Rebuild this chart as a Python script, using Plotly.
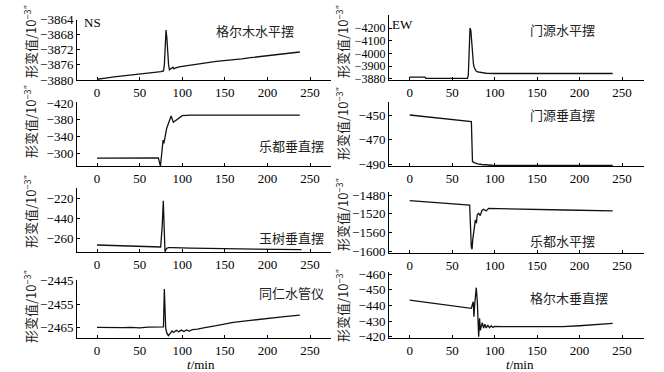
import plotly.graph_objects as go

W, H = 664, 372

# ---------------- data (t in min, deformation values) ----------------
t_gem_h = [0, 5, 10, 20, 30, 40, 50, 60, 70, 75, 78, 79, 80, 81, 82, 83, 84, 85, 87, 89, 90, 92, 95,
           100, 110, 120, 130, 140, 150, 160, 170, 180, 190, 200, 210, 220, 230, 238]
v_gem_h = [-3879.8, -3879.7, -3879.5, -3879.2, -3878.9, -3878.7, -3878.4, -3878.2, -3877.9, -3877.8,
           -3877.6, -3876.0, -3870.0, -3866.8, -3869.0, -3873.0, -3876.0, -3877.3, -3877.0, -3876.6,
           -3877.0, -3876.8, -3876.6, -3876.4, -3876.0, -3875.7, -3875.4, -3875.1, -3874.9, -3874.6,
           -3874.4, -3874.1, -3873.8, -3873.5, -3873.3, -3873.0, -3872.8, -3872.6]

t_my_h = [0, 5, 10, 15, 18, 19, 30, 40, 50, 60, 65, 68, 69, 70, 71, 72, 73, 74, 75, 76, 78, 80, 85,
          90, 100, 120, 140, 160, 180, 200, 220, 239]
v_my_h = [-3815, -3815, -3815, -3815, -3815, -3805, -3805, -3805, -3805, -3805, -3805, -3805, -3830,
          -4050, -4200, -4180, -4080, -3980, -3920, -3890, -3865, -3855, -3848, -3845, -3843, -3843,
          -3843, -3843, -3843, -3843, -3843, -3843]

t_ld_v = [0, 20, 40, 60, 72, 73, 74.4, 76, 77.5, 78.5, 80, 81.7, 84, 87, 89.6, 92, 95, 100, 105, 110,
          150, 200, 238]
v_ld_v = [-287.5, -287.6, -287.8, -288.0, -288.2, -280, -269, -300, -331, -323, -345, -359, -372,
          -389, -374, -378, -383, -389.6, -390.5, -391, -391, -391, -391]

t_my_v = [0, 20, 40, 60, 72.6, 73.9, 76, 80, 85, 97, 110, 150, 200, 239]
v_my_v = [-450.0, -451.5, -452.9, -454.4, -455.4, -487.6, -488.5, -489.4, -490.0, -490.6, -490.8,
          -490.8, -490.8, -490.8]

t_ys_v = [0, 20, 40, 60, 74.7, 76.5, 77.8, 78.8, 79.8, 81.5, 83.7, 88, 95, 110, 130, 150, 175, 200,
          220, 240]
v_ys_v = [-267.0, -267.6, -268.1, -268.6, -269.0, -248, -222.7, -250, -273.7, -270.5, -269.7, -269.6,
          -269.9, -270.1, -270.4, -270.7, -271.0, -271.3, -271.5, -271.7]

t_ld_h = [0, 20, 40, 60, 70.6, 72.5, 73.4, 74.2, 75.3, 76.2, 77.3, 78.5, 79.5, 81.2, 83, 85, 87, 90,
          93, 105, 144, 183, 239]
v_ld_h = [-1492.0, -1494.5, -1497.0, -1499.6, -1501.3, -1590, -1595.7, -1575, -1561.6, -1548,
          -1533, -1540, -1522, -1519, -1524, -1513, -1510.5, -1514, -1508.4, -1509, -1511, -1512,
          -1514]

t_tr_w = [0, 10, 20, 30, 40, 50, 60, 70, 78, 79, 80, 80.6, 82, 83.7, 85.6, 88, 90, 93, 96, 99, 102,
          105, 108, 112, 118, 125, 140, 160, 180, 199, 220, 238]
v_tr_w = [-2465.0, -2465.1, -2464.9, -2465.1, -2465.0, -2465.2, -2464.9, -2465.0, -2464.8, -2448.5,
          -2458, -2465.5, -2467.5, -2468.6, -2467.7, -2466.6, -2467.2, -2466.3, -2466.9, -2466.2,
          -2466.8, -2466.1, -2466.6, -2466.0, -2465.8, -2465.2, -2464.3, -2462.9, -2462.0, -2461.1,
          -2460.4, -2459.7]

t_gem_v = [0, 20, 40, 60, 72.5, 74.8, 75.6, 76.4, 77.2, 78.4, 79.6, 80.4, 81.2, 82.3, 83.2, 84,
           85.5, 87, 88.5, 90, 92, 94, 96, 98, 100, 110, 130, 150, 170, 180, 200, 220, 239]
v_gem_v = [-443.4, -442.0, -440.5, -439.1, -438.1, -442.3, -432.8, -440, -447.7, -451.3, -442.3,
           -432, -420.0, -431.7, -424, -426.0, -429, -425.5, -428, -425.6, -427.3, -425.8, -427.0,
           -425.9, -426.6, -426.4, -426.3, -426.2, -426.3, -426.4, -427.0, -427.7, -428.5]

x_ticks = [0, 50, 100, 150, 200, 250]
x_ticktext = ["0", "50", "100", "150", "200", "250"]

y_ticks_gem_h = [-3880, -3876, -3872, -3868, -3864]
y_text_gem_h = ["−3880", "−3876", "−3872", "−3868", "−3864"]
y_ticks_my_h = [-3800, -3900, -4000, -4100, -4200]
y_text_my_h = ["−3880", "−3900", "−4000", "−4100", "−4200"]
y_ticks_ld_v = [-300, -340, -380, -420]
y_text_ld_v = ["−300", "−340", "−380", "−420"]
y_ticks_my_v = [-490, -470, -450]
y_text_my_v = ["−490", "−470", "−450"]
y_ticks_ys_v = [-260, -240, -220]
y_text_ys_v = ["−260", "−440", "−220"]
y_ticks_ld_h = [-1600, -1560, -1520, -1480]
y_text_ld_h = ["−1600", "−1560", "−1520", "−1480"]
y_ticks_tr_w = [-2465, -2455, -2445]
y_text_tr_w = ["−2465", "−2455", "−2445"]
y_ticks_gem_v = [-420, -430, -440, -450, -460]
y_text_gem_v = ["−420", "−430", "−440", "−450", "−460"]

station_names = ["格尔木水平摆", "门源水平摆", "乐都垂直摆", "门源垂直摆",
                 "玉树垂直摆", "乐都水平摆", "同仁水管仪", "格尔木垂直摆"]

# ---------------- layout geometry (pixels) ----------------
panels = [
    (t_gem_h, v_gem_h, y_ticks_gem_h, y_text_gem_h, 77, 331, 19.5, 80, [-3880, -3864], "L", (255, 30)),
    (t_my_h, v_my_h, y_ticks_my_h, y_text_my_h, 389, 644, 15, 80, [-3792, -4302], "R", (562, 29)),
    (t_ld_v, v_ld_v, y_ticks_ld_v, y_text_ld_v, 77, 331, 102, 166, [-268.8, -422.4], "L", (291, 145)),
    (t_my_v, v_my_v, y_ticks_my_v, y_text_my_v, 389, 644, 102, 166, [-491.2, -439.5], "R", (562, 115)),
    (t_ys_v, v_ys_v, y_ticks_ys_v, y_text_ys_v, 77, 331, 188, 252, [-274, -210], "L", (291, 237)),
    (t_ld_h, v_ld_h, y_ticks_ld_h, y_text_ld_h, 389, 644, 192, 253, [-1603.6, -1473.6], "R", (562, 240)),
    (t_tr_w, v_tr_w, y_ticks_tr_w, y_text_tr_w, 77, 331, 280, 338, [-2469.6, -2444.6], "L", (291, 292)),
    (t_gem_v, v_gem_v, y_ticks_gem_v, y_text_gem_v, 389, 644, 272, 338, [-419.2, -461.3], "R", (569, 297)),
]
ytitle_centers = [42, 42, 122, 124, 212, 215, 307, 306]
ytick_sizes = [13, 12, 13, 13, 13, 13, 13, 13]

FONT = "Liberation Serif, 'Times New Roman', 'Noto Sans CJK SC', serif"
CJK = "'Noto Sans CJK SC', 'Liberation Serif', serif"

fig = go.Figure()
layout = dict(
    width=W, height=H, margin=dict(l=0, r=0, t=0, b=0, pad=0, autoexpand=False),
    paper_bgcolor="white", plot_bgcolor="white", showlegend=False,
    font=dict(family=FONT, size=13, color="black"),
)
annotations = []

for i, (t, v, yt, ytx, x0, x1, top, bot, yr, side, lab) in enumerate(panels):
    k = i + 1
    xa = "xaxis" if k == 1 else f"xaxis{k}"
    ya = "yaxis" if k == 1 else f"yaxis{k}"
    xr = [-23.5, 274.6] if side == "L" else [-24.4, 275.9]
    fig.add_trace(go.Scatter(x=t, y=v, mode="lines", xaxis=f"x{k}" if k > 1 else "x",
                             yaxis=f"y{k}" if k > 1 else "y",
                             line=dict(color="#111111", width=1.3), hoverinfo="skip"))
    layout[xa] = dict(domain=[x0 / W, x1 / W], range=xr, anchor=f"y{k}" if k > 1 else "y",
                      automargin=False,
                      showline=True, linecolor="black", linewidth=1, mirror=False,
                      ticks="inside", ticklen=3, tickcolor="black", tickwidth=1,
                      tickmode="array", tickvals=x_ticks, ticktext=x_ticktext,
                      showgrid=False, zeroline=False, fixedrange=True,
                      tickfont=dict(family=FONT, size=13, color="black"))
    layout[ya] = dict(domain=[1 - bot / H, 1 - top / H], range=yr, anchor=f"x{k}" if k > 1 else "x",
                      automargin=False,
                      showline=True, linecolor="black", linewidth=1,
                      ticks="inside", ticklen=3, tickcolor="black", tickwidth=1,
                      tickmode="array", tickvals=yt, ticktext=ytx,
                      showgrid=False, zeroline=False, fixedrange=True,
                      tickfont=dict(family=FONT, size=ytick_sizes[i], color="black"))
    annotations.append(dict(xref="paper", yref="paper", x=lab[0] / W, y=1 - lab[1] / H,
                            text=station_names[i], showarrow=False, xanchor="center",
                            yanchor="middle", font=dict(family=CJK, size=13, color="#222")))
    tx = 30 if side == "L" else 342
    annotations.append(dict(xref="paper", yref="paper", x=tx / W, y=1 - ytitle_centers[i] / H,
                            text="形变值/10<sup>−3″</sup>", textangle=-90, showarrow=False,
                            xanchor="center", yanchor="middle",
                            font=dict(family=CJK, size=13, color="#222")))

annotations.append(dict(xref="paper", yref="paper", x=82 / W, y=1 - 23 / H, text="NS",
                        showarrow=False, xanchor="left", yanchor="middle",
                        font=dict(family=FONT, size=13, color="black")))
annotations.append(dict(xref="paper", yref="paper", x=390 / W, y=1 - 25 / H, text="EW",
                        showarrow=False, xanchor="left", yanchor="middle",
                        font=dict(family=FONT, size=13, color="black")))
for cx in (201, 520):
    annotations.append(dict(xref="paper", yref="paper", x=cx / W, y=1 - 364 / H,
                            text="<i>t</i>/min", showarrow=False, xanchor="center",
                            yanchor="middle", font=dict(family=FONT, size=13, color="black")))

layout["annotations"] = annotations
fig.update_layout(**layout)
fig.write_html("out.html", config={"displayModeBar": False},
               post_script="document.body.style.margin='0';document.body.style.overflow='hidden';")
